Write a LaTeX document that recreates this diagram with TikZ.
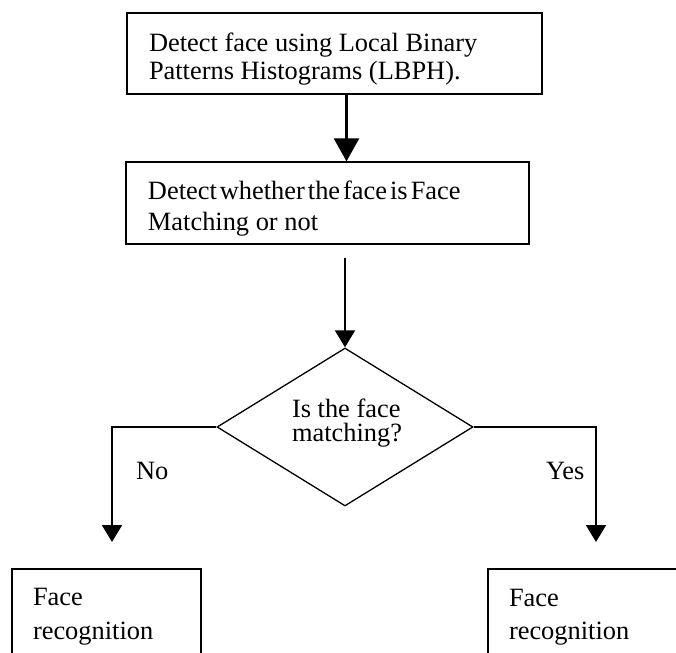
\documentclass[tikz,border=0pt]{standalone}
\usepackage{fontspec}
\setmainfont{Liberation Serif}
\usetikzlibrary{arrows.meta,shapes.geometric,calc}
\begin{document}
\begin{tikzpicture}[x=0.5pt,y=-0.5pt,
  font=\fontsize{13.2}{14}\selectfont,
  boxshape/.style={draw,line width=0.65pt,rectangle,inner sep=0pt},
  openbox/.style={line width=0.65pt},
  txt/.style={anchor=base west,inner sep=0pt,outer sep=0pt},
  bigarrow/.style={line width=1.25pt,-{Triangle[length=11.5pt,width=12.5pt]}},
  arrowline/.style={line width=1pt,-{Triangle[length=8.5pt,width=10pt]}},
  branch/.style={line width=1pt,-{Triangle[length=8.5pt,width=10pt]}}]
\useasboundingbox (0,0) rectangle (676,653);
\clip (0,0) rectangle (676,653);
\fill[white] (0,0) rectangle (676,653);

% boxes
\node[boxshape,minimum width=207.5pt,minimum height=40.5pt] (b1) at (334.5,53.5) {};
\node[boxshape,minimum width=201.5pt,minimum height=41pt] (b2) at (327.5,203) {};
\node[draw,diamond,line width=0.65pt,inner sep=0pt,minimum width=128pt,minimum height=79pt] (dm) at (345,427) {};

% bottom boxes (cut off by the page edge)
\coordinate (blnw) at (12,569);
\coordinate (blne) at (201,569);
\coordinate (brnw) at (488,569);
\coordinate (brne) at (700,569);
\draw[openbox] ($(blnw)+(0,150)$) -- (blnw) -- (blne) -- ($(blne)+(0,150)$);
\draw[openbox] ($(brnw)+(0,150)$) -- (brnw) -- (brne);

% texts
\node[txt] (t1a) at (149,51) {Detect face using Local Binary};
\node[txt] (t1b) at (149,79) {Patterns Histograms (LBPH).};
\node[txt] (t2a) at (148,199) {\spaceskip=1.5pt Detect whether the face is Face};
\node[txt] (t2b) at (148,230) {Matching or not};
\node[txt] (t3a) at (292,417) {Is the face};
\node[txt] (t3b) at (292,441) {matching?};
\node[txt] (no) at (136,479) {No};
\node[txt] (yes) at (546,479) {Yes};
\node[txt] (t4a) at (33,605) {Face};
\node[txt] (t4b) at (33,639) {recognition};
\node[txt] (t5a) at (509,606) {Face};
\node[txt] (t5b) at (509,639) {recognition};

% connectors
\coordinate (a2s) at ($(b2.south -| dm.north)+(0,13)$);
\coordinate (lt) at (112,542);
\coordinate (rt) at (596,542);
\draw[bigarrow] (b1.south -| 346.5,0) -- (b2.north -| 346.5,0);
\draw[arrowline] (a2s) -- (dm.north);
\draw[branch] (dm.west) -| (lt);
\draw[branch] (dm.east) -| (rt);
\end{tikzpicture}
\end{document}
